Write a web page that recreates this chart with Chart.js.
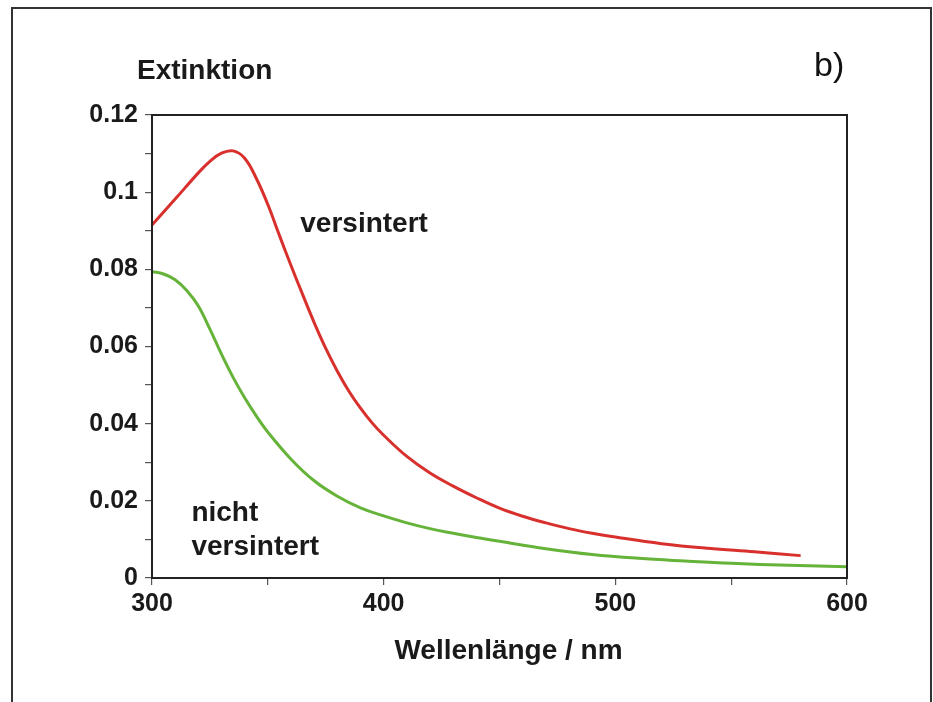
<!DOCTYPE html>
<html>
<head>
<meta charset="utf-8">
<script src="https://cdn.jsdelivr.net/npm/chart.js@4/dist/chart.umd.min.js"></script>
<style>
    html, body { margin: 0; padding: 0; background: #fff; }
    #wrap { position: relative; width: 933px; height: 702px; overflow: hidden; }
    #frame { position: absolute; left: 11px; top: 7px; width: 917px; height: 720px; border: 2px solid #333; border-bottom: none; }
    #chart { position: absolute; left: 0; top: 0; }
</style>
</head>
<body>
<div id="wrap">
    <div id="frame"></div>
    <canvas id="chart" width="933" height="702"></canvas>
</div>
<script>
// wavelengths (nm) and extinction
const redWavelengths = [300, 310, 320, 325, 330, 335, 340, 345, 350, 355, 360, 365, 370, 375, 380, 385, 390, 395, 400, 410, 420, 430, 440, 450, 460, 470, 480, 490, 500, 520, 540, 560, 580];
const redValues = [0.0915, 0.0982, 0.1050, 0.1080, 0.1101, 0.1107, 0.1088, 0.1036, 0.0968, 0.0888, 0.0810, 0.0735, 0.0662, 0.0595, 0.0536, 0.0484, 0.0440, 0.0402, 0.0370, 0.0315, 0.0272, 0.0238, 0.0208, 0.0181, 0.0160, 0.0143, 0.0128, 0.0116, 0.0106, 0.0089, 0.0077, 0.0068, 0.0058];

const greenWavelengths = [300, 305, 310, 315, 320, 325, 330, 335, 340, 345, 350, 360, 370, 380, 390, 400, 410, 420, 430, 440, 450, 470, 490, 510, 530, 550, 575, 600];
const greenValues = [0.0794, 0.0788, 0.0773, 0.0745, 0.0705, 0.0645, 0.0580, 0.0520, 0.0467, 0.0420, 0.0378, 0.0308, 0.0252, 0.0212, 0.0182, 0.0161, 0.0143, 0.0128, 0.0116, 0.0105, 0.0095, 0.0076, 0.0061, 0.0051, 0.0044, 0.0038, 0.0033, 0.0029];

const xTickLabels = ['300', '400', '500', '600'];
const yTickLabels = ['0', '0.02', '0.04', '0.06', '0.08', '0.1', '0.12'];

const seriesNames = ['versintert', 'nicht versintert'];

const toPoints = (xs, ys) => xs.map((x, i) => ({ x: x, y: ys[i] }));

const fontFamily = "'Liberation Sans', Arial, sans-serif";

// frame around the plot area plus the text labels
const textPlugin = {
    id: 'textPlugin',
    afterDraw(chart) {
        const ctx = chart.ctx;
        const area = chart.chartArea;
        const xs = chart.scales.x;
        const ys = chart.scales.y;
        ctx.save();
        ctx.strokeStyle = '#222';
        ctx.lineWidth = 2;
        ctx.strokeRect(area.left, area.top, area.right - area.left, area.bottom - area.top);

        ctx.fillStyle = '#1a1a1a';
        ctx.textBaseline = 'alphabetic';
        ctx.textAlign = 'left';
        ctx.font = 'bold 28px ' + fontFamily;
        ctx.fillText('Extinktion', area.left - 15, area.top - 36);
        ctx.fillText('versintert', xs.getPixelForValue(364), ys.getPixelForValue(0.0897));
        ctx.fillText('nicht', xs.getPixelForValue(317), ys.getPixelForValue(0.0149));
        ctx.fillText('versintert', xs.getPixelForValue(317), ys.getPixelForValue(0.006));

        ctx.textAlign = 'center';
        ctx.fillText('Wellenlänge / nm', (area.left + area.right) / 2 + 9, area.bottom + 81);

        ctx.textAlign = 'left';
        ctx.font = "34px 'Liberation Sans Narrow', 'Arial Narrow', sans-serif";
        ctx.fillStyle = '#111';
        ctx.fillText('b)', 814, 76);
        ctx.restore();
    }
};

new Chart(document.getElementById('chart'), {
    type: 'line',
    data: {
        datasets: [{
            label: seriesNames[0],
            data: toPoints(redWavelengths, redValues),
            borderColor: '#d8302c',
            borderWidth: 3,
            pointRadius: 0,
            tension: 0.4,
            fill: false
        }, {
            label: seriesNames[1],
            data: toPoints(greenWavelengths, greenValues),
            borderColor: '#66b33a',
            borderWidth: 3,
            pointRadius: 0,
            tension: 0.4,
            fill: false
        }]
    },
    options: {
        responsive: false,
        animation: false,
        layout: { padding: { top: 115, right: 86, bottom: 0, left: 0 } },
        plugins: {
            legend: { display: false },
            tooltip: { enabled: false }
        },
        scales: {
            x: {
                type: 'linear',
                min: 300,
                max: 600,
                afterFit: (scale) => { scale.height = 124; },
                border: { display: true, color: '#222', width: 2 },
                grid: { drawOnChartArea: false, drawTicks: true, tickLength: 7, color: '#555', lineWidth: 1.2 },
                ticks: {
                    stepSize: 50,
                    autoSkip: false,
                    maxRotation: 0,
                    padding: 4,
                    color: '#1a1a1a',
                    font: { family: fontFamily, size: 25, weight: 'bold' },
                    callback: (value, index) => index % 2 === 0 ? xTickLabels[index / 2] : ''
                }
            },
            y: {
                min: 0,
                max: 0.12,
                afterFit: (scale) => { scale.width = 152; },
                border: { display: true, color: '#222', width: 2 },
                grid: { drawOnChartArea: false, drawTicks: true, tickLength: 7, color: '#555', lineWidth: 1.2 },
                ticks: {
                    stepSize: 0.01,
                    autoSkip: false,
                    padding: 7,
                    color: '#1a1a1a',
                    font: { family: fontFamily, size: 25, weight: 'bold' },
                    callback: (value, index) => index % 2 === 0 ? yTickLabels[index / 2] : ''
                }
            }
        }
    },
    plugins: [textPlugin]
});
</script>
</body>
</html>
